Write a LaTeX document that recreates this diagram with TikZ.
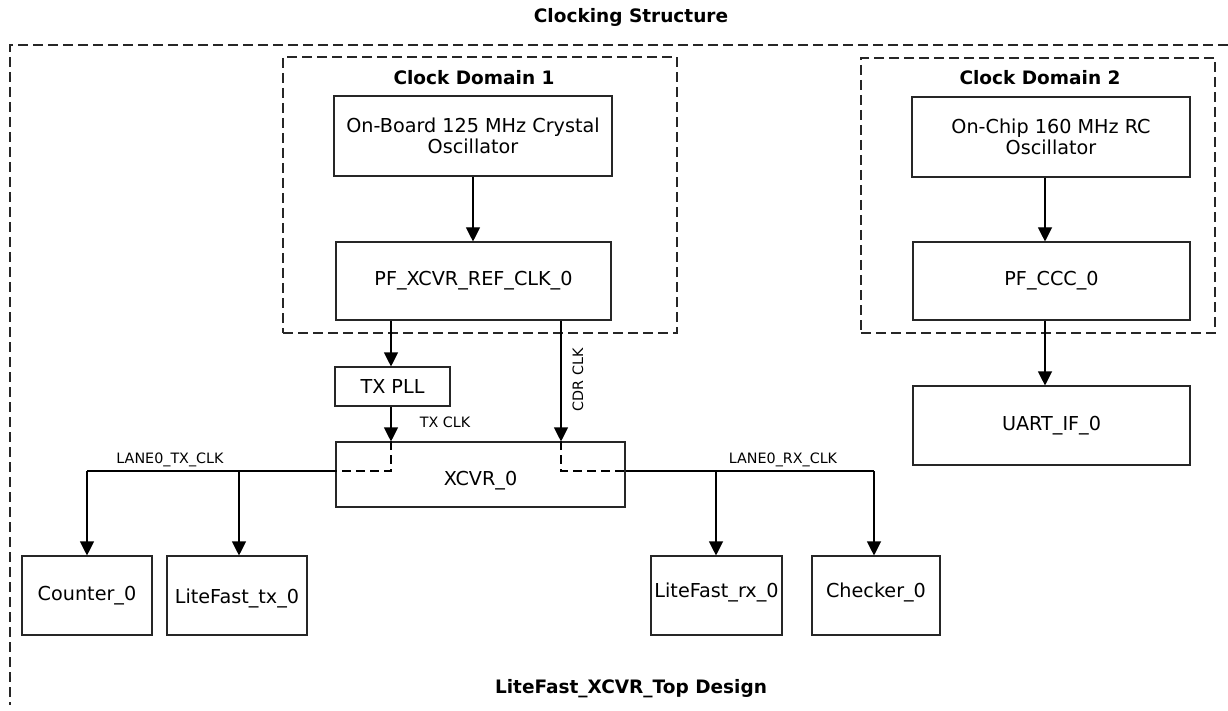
\documentclass[tikz,border=0pt]{standalone}
\usepackage{fontspec}
\setmainfont{DejaVu Sans}
\usetikzlibrary{arrows.meta}
\newcommand{\shiftlbl}[2]{\raisebox{#1}[\height][\depth]{#2}}
\begin{document}
\begin{tikzpicture}[x=1pt,y=-1pt,
  box/.style={draw=black!85, line width=1.1pt, fill=white, inner sep=0pt, align=center,
    font=\fontsize{19.2}{21.5}\selectfont},
  dom/.style={draw=black!85, line width=1.1pt, dash pattern=on 10pt off 5pt, inner sep=0pt},
  arr/.style={-{Triangle[width=14pt,length=14pt]}, line width=1.1pt, draw=black},
  wire/.style={line width=1.1pt, draw=black},
  dwire/.style={line width=1.1pt, draw=black, dash pattern=on 9pt off 5pt},
  small/.style={font=\fontsize{14.3}{16}\selectfont, inner sep=0pt},
  ttl/.style={font=\bfseries\fontsize{18.5}{22}\selectfont, inner sep=0pt}]
\useasboundingbox (0,0) rectangle (1228,711);

% outer frame (top and left edges visible)
\coordinate (ofr) at (1228,45);
\coordinate (otl) at (10,45);
\coordinate (obl) at (10,705);
\draw[dom] (ofr) -- (otl) -- (obl);

\node[ttl] (title) at (631,17) {Clocking Structure};
\node[ttl] (bottom) at (631,689) {LiteFast\_XCVR\_Top Design};

% clock domains
\node[dom, minimum width=394pt, minimum height=276pt] (d1) at (480,195) {};
\node[dom, minimum width=354pt, minimum height=275pt] (d2) at (1038,195.5) {};
\node[ttl] (d1t) at (474,78) {Clock Domain 1};
\node[ttl] (d2t) at (1040,78) {Clock Domain 2};

% boxes
\node[box, minimum width=278pt, minimum height=80pt] (osc1) at (473,136) {On-Board 125 MHz Crystal\\Oscillator};
\node[box, minimum width=275pt, minimum height=78pt] (ref) at (473.5,281) {PF\_XCVR\_REF\_CLK\_0};
\node[box, minimum width=115pt, minimum height=39pt] (pll) at (392.5,386.5) {TX PLL};
\node[box, minimum width=289pt, minimum height=65pt] (xcvr) at (480.5,474.5) {\shiftlbl{-6pt}{XCVR\_0}};
\node[box, minimum width=130pt, minimum height=79pt] (cnt) at (87,595.5) {Counter\_0};
\node[box, minimum width=140pt, minimum height=79pt] (ltx) at (237,595.5) {\shiftlbl{-3pt}{LiteFast\_tx\_0}};
\node[box, minimum width=131pt, minimum height=79pt] (lrx) at (716.5,595.5) {\shiftlbl{3pt}{LiteFast\_rx\_0}};
\node[box, minimum width=128pt, minimum height=79pt] (chk) at (876,595.5) {\shiftlbl{3pt}{Checker\_0}};
\node[box, minimum width=278pt, minimum height=80pt] (osc2) at (1051,137) {On-Chip 160 MHz RC\\Oscillator};
\node[box, minimum width=277pt, minimum height=78pt] (ccc) at (1051.5,281) {PF\_CCC\_0};
\node[box, minimum width=277pt, minimum height=79pt] (uart) at (1051.5,425.5) {UART\_IF\_0};

% domain 1 connections
\draw[arr] (osc1.south) -- (osc1.south |- ref.north);
\draw[arr] (ref.south -| 391,0) -- (pll.north -| 391,0);
\draw[arr] (pll.south -| 391,0) -- (xcvr.north -| 391,0);
\draw[arr] (ref.south -| 561,0) -- (xcvr.north -| 561,0);
\node[small] (txclk) at (445,422) {TX CLK};
\node[small, rotate=90] (cdrclk) at (578,380) {CDR CLK};

% domain 2 connections
\draw[arr] ([xshift=-6pt]osc2.south) -- ([xshift=-6.5pt]ccc.north);
\draw[arr] ([xshift=-6.5pt]ccc.south) -- ([xshift=-6.5pt]uart.north);

% TX clock fan-out
\coordinate (tin) at (391,471);
\coordinate (tj1) at (87,471);
\coordinate (tj2) at (239,471);
\draw[dwire] (xcvr.north -| 391,0) -- (tin) -- (xcvr.west |- tin);
\draw[wire] (xcvr.west |- tin) -- (tj1);
\draw[arr] (tj1) -- (cnt.north -| tj1);
\draw[arr] (tj2) -- (ltx.north -| tj2);
\node[small] (lanetx) at (170,460) {LANE0\_TX\_CLK};

% RX clock fan-out
\coordinate (rin) at (561,471);
\coordinate (rj1) at (716,471);
\coordinate (rj2) at (874,471);
\draw[dwire] (xcvr.north -| 561,0) -- (rin) -- (xcvr.east |- rin);
\draw[wire] (xcvr.east |- rin) -- (rj2);
\draw[arr] (rj1) -- (lrx.north -| rj1);
\draw[arr] (rj2) -- (chk.north -| rj2);
\node[small] (lanerx) at (783,460) {LANE0\_RX\_CLK};
\end{tikzpicture}
\end{document}
